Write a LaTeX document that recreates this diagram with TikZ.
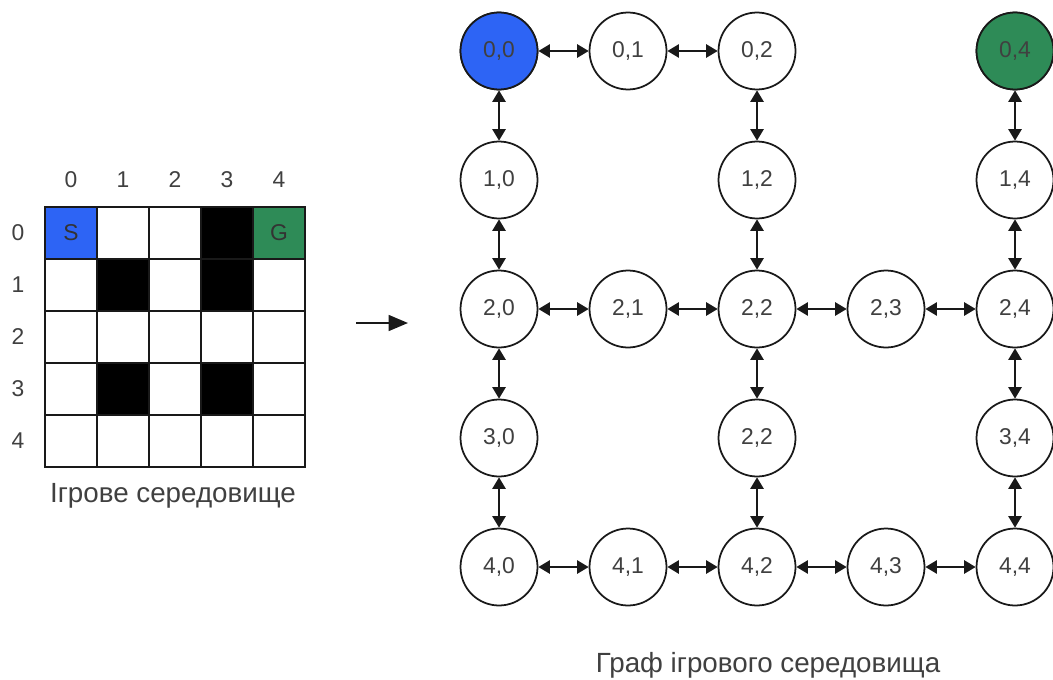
\documentclass[tikz,border=0pt]{standalone}
\usepackage{fontspec}
\setmainfont{Liberation Sans}
\usetikzlibrary{arrows.meta}

\definecolor{startblue}{RGB}{45,100,245}
\definecolor{goalgreen}{RGB}{46,139,87}

\begin{document}
\begin{tikzpicture}[
  x=0.02cm, y=-0.02cm,
  font=\fontsize{13}{15}\selectfont,
  >={Triangle[length=6.5pt,width=7.5pt]},
  cell/.style={draw=black!90, line width=1.1pt},
  wall/.style={cell, fill=black},
  vtx/.style={circle, draw=black!90, line width=1pt, fill=white, minimum size=1.54cm,
              inner sep=0pt, text=black!75},
  arr/.style={<->, draw=black!90, line width=1pt},
  capt/.style={font=\fontsize{15.8}{18}\selectfont, text=black!75}
]
\useasboundingbox (0,0) rectangle (1053,679);
% ---------------- game grid
\foreach \r in {0,...,4} {
  \foreach \c in {0,...,4} { \draw[cell] ({45+52*\c},{207+52*\r}) rectangle ++(52,52); }
  \node[text=black!75] (cl\r) at ({71+52*\r},180) {\r};
  \node[text=black!75] (rl\r) at (18,{233+52*\r}) {\r};
}
\foreach \r/\c in {0/3,1/1,1/3,3/1,3/3} { \draw[wall] ({45+52*\c},{207+52*\r}) rectangle ++(52,52); }
\draw[cell, fill=startblue] (45,207) rectangle ++(52,52);
\draw[cell, fill=goalgreen] (253,207) rectangle ++(52,52);
\node[text=black!80] (s) at (71,233) {S};
\node[text=black!80] (g) at (279,233) {G};
\node[capt] (c1) at (173,496) {Ігрове середовище};
% ---------------- transition arrow
\coordinate (m1) at (356,323);
\coordinate (m2) at (408,323);
\draw[-{Triangle[length=11pt,width=9pt]}, draw=black!90, line width=1.1pt] (m1) -- (m2);
% ---------------- graph nodes
\foreach \r/\c/\t in {0/0/{0,0},0/1/{0,1},0/2/{0,2},0/4/{0,4},
                      1/0/{1,0},1/2/{1,2},1/4/{1,4},
                      2/0/{2,0},2/1/{2,1},2/2/{2,2},2/3/{2,3},2/4/{2,4},
                      3/0/{3,0},3/2/{2,2},3/4/{3,4},
                      4/0/{4,0},4/1/{4,1},4/2/{4,2},4/3/{4,3},4/4/{4,4}} {
  \node[vtx] (v\r\c) at ({499+129*\c},{51+129*\r}) {\t};
}
\node[vtx, fill=startblue] at (v00) {0,0};
\node[vtx, fill=goalgreen] at (v04) {0,4};
% ---------------- edges
\foreach \a/\b in {00/01,01/02,20/21,21/22,22/23,23/24,40/41,41/42,42/43,43/44,
                   00/10,10/20,20/30,30/40,02/12,12/22,22/32,32/42,04/14,14/24,24/34,34/44} {
  \draw[arr] (v\a) -- (v\b);
}
\node[capt] (c2) at (768,665) {Граф ігрового середовища};
\end{tikzpicture}
\end{document}
